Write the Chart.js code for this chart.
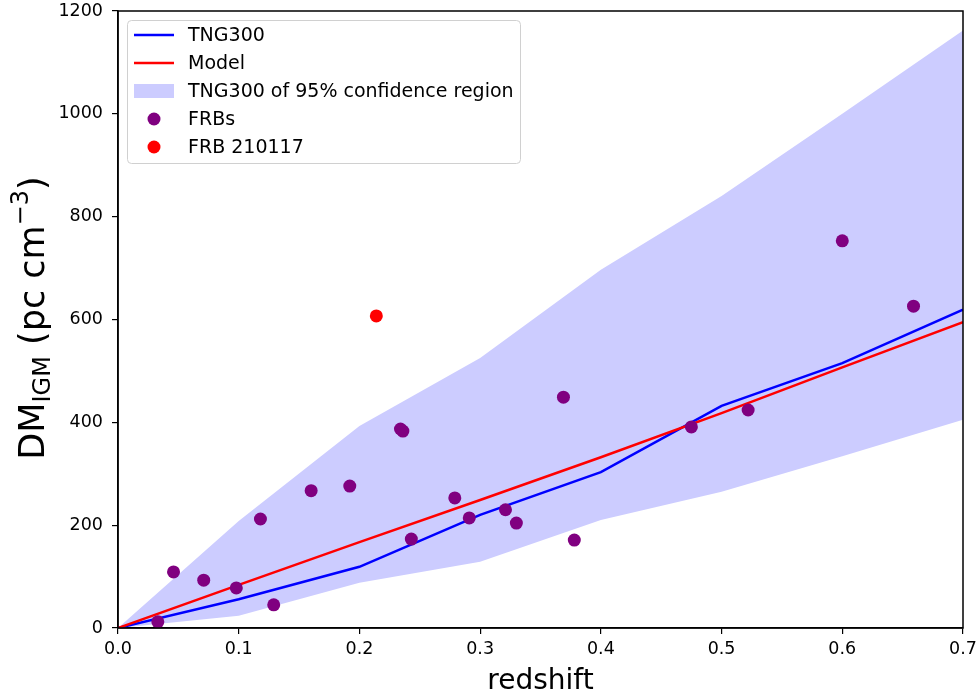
<!DOCTYPE html>
<html>
<head>
	<title>DM IGM vs redshift</title>
	<script src="https://cdn.jsdelivr.net/npm/chart.js"></script>
	<style>
		body { margin: 0; background: #fff; }
		#wrap { width: 978px; height: 691px; }
	</style>
</head>
<body>
	<div id="wrap"><canvas id="myChart"></canvas></div>

	<script>
		// redshift grid of the TNG300 curves
		const zGrid = [0, 0.1, 0.2, 0.3, 0.4, 0.5, 0.6, 0.7];
		const tngMean = [0, 56, 119, 220, 303, 432, 515, 619];
		const tngLow = [0, 24, 88, 129, 210, 265, 334, 405];
		const tngHigh = [0, 208, 393, 525, 697, 840, 1000, 1162];
		const modelDM = [0, 84, 167, 249, 332, 418, 507, 595];

		// localized FRBs
		const frbZ = [0.033, 0.046, 0.071, 0.098, 0.118, 0.129, 0.160, 0.192, 0.234, 0.236,
			0.243, 0.279, 0.291, 0.321, 0.330, 0.369, 0.378, 0.475, 0.522, 0.600, 0.659];
		const frbDM = [12, 109, 93, 78, 212, 45, 267, 276, 387, 383,
			173, 253, 214, 230, 204, 449, 171, 391, 424, 753, 626];

		const frb210117Z = [0.214];
		const frb210117DM = [607];

		const xTicks = [0, 0.1, 0.2, 0.3, 0.4, 0.5, 0.6, 0.7];
		const yTicks = [0, 200, 400, 600, 800, 1000, 1200];

		const pts = (xs, ys) => xs.map((x, i) => ({ x: x, y: ys[i] }));
		const FONT = '"DejaVu Sans", sans-serif';

		const frame = {
			id: 'frame',
			afterDraw(chart) {
				const c = chart.ctx, a = chart.chartArea;
				c.save();
				c.strokeStyle = '#000';
				c.lineWidth = 1.5;
				c.strokeRect(a.left, a.top, a.right - a.left, a.bottom - a.top);

				// axis titles
				c.fillStyle = '#000';
				c.font = '28px ' + FONT;
				c.textAlign = 'center';
				c.textBaseline = 'alphabetic';
				c.fillText('redshift', (a.left + a.right) / 2, 689);

				c.translate(44, 318);
				c.rotate(-Math.PI / 2);
				const big = '35px ' + FONT, small = '24px ' + FONT;
				const parts = [
					{ t: 'DM', f: big, dy: 0 },
					{ t: 'IGM', f: small, dy: 6 },
					{ t: ' (pc cm', f: big, dy: 0 },
					{ t: '\u22123', f: small, dy: -16 },
					{ t: ')', f: big, dy: 0 }
				];
				let w = 0;
				parts.forEach(p => { c.font = p.f; p.w = c.measureText(p.t).width; w += p.w; });
				let x = -w / 2;
				c.textAlign = 'left';
				parts.forEach(p => { c.font = p.f; c.fillText(p.t, x, p.dy); x += p.w; });
				c.restore();

				// legend
				c.save();
				const lx = 127, ly = 20, lw = 393, lh = 143;
				c.fillStyle = 'rgba(255,255,255,0.8)';
				c.strokeStyle = '#d0d0d0';
				c.lineWidth = 1;
				c.beginPath();
				c.roundRect(lx + 0.5, ly + 0.5, lw, lh, 4);
				c.fill();
				c.stroke();
				const items = [
					{ label: 'TNG300', kind: 'line', color: '#0000ff' },
					{ label: 'Model', kind: 'line', color: '#ff0000' },
					{ label: 'TNG300 of 95% confidence region', kind: 'patch', color: '#ccccff' },
					{ label: 'FRBs', kind: 'dot', color: '#800080' },
					{ label: 'FRB 210117', kind: 'dot', color: '#ff0000' }
				];
				c.font = '19px ' + FONT;
				c.textBaseline = 'middle';
				items.forEach((it, i) => {
					const y = 35 + i * 28;
					if (it.kind === 'line') {
						c.strokeStyle = it.color; c.lineWidth = 2.5;
						c.beginPath(); c.moveTo(134, y); c.lineTo(174, y); c.stroke();
					} else if (it.kind === 'patch') {
						c.fillStyle = it.color; c.fillRect(134, y - 7, 40, 14);
					} else {
						c.fillStyle = it.color;
						c.beginPath(); c.arc(154, y, 6.5, 0, Math.PI * 2); c.fill();
					}
					c.fillStyle = '#000';
					c.fillText(it.label, 188, y + 1);
				});
				c.restore();
			}
		};

		const ctx = document.getElementById('myChart').getContext('2d');
		const chart = new Chart(ctx, {
			type: 'scatter',
			data: {
				datasets: [
					{
						label: 'lower',
						data: pts(zGrid, tngLow),
						showLine: true,
						borderWidth: 0,
						borderColor: 'rgba(0,0,0,0)',
						pointRadius: 0,
						fill: false,
						order: 10
					},
					{
						label: 'TNG300 of 95% confidence region',
						data: pts(zGrid, tngHigh),
						showLine: true,
						borderWidth: 0,
						borderColor: 'rgba(0,0,0,0)',
						backgroundColor: '#ccccff',
						pointRadius: 0,
						fill: '-1',
						order: 9
					},
					{
						label: 'TNG300',
						data: pts(zGrid, tngMean),
						showLine: true,
						borderColor: '#0000ff',
						borderWidth: 2.5,
						pointRadius: 0,
						fill: false,
						order: 3
					},
					{
						label: 'Model',
						data: pts(zGrid, modelDM),
						showLine: true,
						borderColor: '#ff0000',
						borderWidth: 2.5,
						pointRadius: 0,
						fill: false,
						order: 2
					},
					{
						label: 'FRBs',
						data: pts(frbZ, frbDM),
						backgroundColor: '#800080',
						borderWidth: 0,
						pointRadius: 6.5,
						order: 1
					},
					{
						label: 'FRB 210117',
						data: pts(frb210117Z, frb210117DM),
						backgroundColor: '#ff0000',
						borderWidth: 0,
						pointRadius: 6.5,
						order: 0
					}
				]
			},
			options: {
				responsive: true,
				maintainAspectRatio: false,
				animation: false,
				layout: { padding: { left: 0, top: 11, right: 15, bottom: 0 } },
				plugins: {
					legend: { display: false },
					tooltip: { enabled: false }
				},
				scales: {
					x: {
						type: 'linear',
						min: 0, max: 0.7,
						afterBuildTicks: s => { s.ticks = xTicks.map(v => ({ value: v })); },
						afterFit: s => { s.height = 63; s.paddingLeft = 0; s.paddingRight = 0; },
						grid: { drawOnChartArea: false, drawTicks: true, tickLength: 6, color: '#000', lineWidth: 1.2 },
						border: { display: true, color: '#000', width: 1.5 },
						ticks: {
							color: '#000',
							font: { family: FONT, size: 17.5 },
							padding: 5,
							maxRotation: 0,
							callback: v => v.toFixed(1)
						}
					},
					y: {
						type: 'linear',
						min: 0, max: 1200,
						afterBuildTicks: s => { s.ticks = yTicks.map(v => ({ value: v })); },
						afterFit: s => { s.width = 118; s.paddingTop = 0; s.paddingBottom = 0; },
						grid: { drawOnChartArea: false, drawTicks: true, tickLength: 6, color: '#000', lineWidth: 1.2 },
						border: { display: true, color: '#000', width: 1.5 },
						ticks: {
							color: '#000',
							font: { family: FONT, size: 17.5 },
							padding: 9,
							callback: v => String(v)
						}
					}
				}
			},
			plugins: [frame]
		});
	</script>
</body>
</html>
